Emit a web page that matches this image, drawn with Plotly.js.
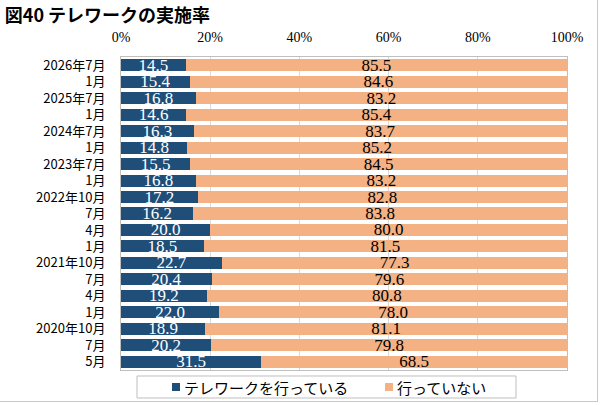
<!DOCTYPE html>
<html>
<head>
<meta charset="utf-8">
<script src="https://cdn.plot.ly/plotly-3.0.1.min.js"></script>
<style>
html,body{margin:0;padding:0;background:#fff;}
#wrap{width:597px;height:401px;border-right:1px solid #c8c8c8;border-bottom:1px solid #c8c8c8;}
#chart{width:597px;height:401px;}
</style>
</head>
<body>
<div id="wrap"><div id="chart"></div></div>
<script>
const periods = ["2026年7月","1月","2025年7月","1月","2024年7月","1月","2023年7月","1月","2022年10月","7月","4月","1月","2021年10月","7月","4月","1月","2020年10月","7月","5月"];
const doing = [14.5,15.4,16.8,14.6,16.3,14.8,15.5,16.8,17.2,16.2,20.0,18.5,22.7,20.4,19.2,22.0,18.9,20.2,31.5];
const notDoing = [85.5,84.6,83.2,85.4,83.7,85.2,84.5,83.2,82.8,83.8,80.0,81.5,77.3,79.6,80.8,78.0,81.1,79.8,68.5];
const seriesNames = ["テレワークを行っている","行っていない"];
const seriesColors = ["#1F4E79","#F4B183"];
const xTicks = [0,20,40,60,80,100];

const pos = periods.map((_, i) => i);
const serif = "Liberation Serif, Times New Roman, serif";
const sans = "Noto Sans CJK JP, sans-serif";

const W = 597, H = 401;
const M = {l: 121, r: 30, t: 57, b: 31};
const PW = W - M.l - M.r, PH = H - M.t - M.b;
const px = x => (x - M.l) / PW;
const py = y => (H - M.b - y) / PH;

const traces = [
  {
    type: "bar", orientation: "h", name: seriesNames[0],
    y: pos, x: doing,
    marker: {color: seriesColors[0]},
    text: doing.map(v => v.toFixed(1)),
    textposition: "inside", insidetextanchor: "middle", constraintext: "none",
    textfont: {family: serif, size: 17, color: "#ffffff"},
    hoverinfo: "skip"
  },
  {
    type: "bar", orientation: "h", name: seriesNames[1],
    y: pos, x: notDoing,
    marker: {color: seriesColors[1]},
    text: notDoing.map(v => v.toFixed(1)),
    textposition: "inside", insidetextanchor: "middle", constraintext: "none",
    textfont: {family: serif, size: 17, color: "#000000"},
    hoverinfo: "skip"
  }
];

// legend drawn manually (box, swatches, labels)
const legendItemsX = [172, 385];
const shapes = [
  {type: "rect", xref: "paper", yref: "paper", x0: px(137), x1: px(516), y0: py(376), y1: py(398),
   line: {color: "#bfbfbf", width: 1}, fillcolor: "#ffffff"}
];
const annotations = [];
legendItemsX.forEach((lx, i) => {
  shapes.push({type: "rect", xref: "paper", yref: "paper", x0: px(lx), x1: px(lx + 8), y0: py(383), y1: py(391),
               line: {width: 0}, fillcolor: seriesColors[i]});
  annotations.push({xref: "paper", yref: "paper", x: px(lx + 10), y: py(387.5), xanchor: "left", yanchor: "middle",
                    text: seriesNames[i], showarrow: false, font: {family: sans, size: 15, color: "#000"}});
});

const layout = {
  width: W, height: H,
  margin: {l: M.l, r: M.r, t: M.t, b: M.b, autoexpand: false},
  paper_bgcolor: "#ffffff", plot_bgcolor: "#ffffff",
  barmode: "stack", bargap: 0.27,
  showlegend: false,
  title: {text: "<b>図40 テレワークの実施率</b>", x: 0.008, xanchor: "left", y: 0.962, yanchor: "middle",
          font: {family: sans, size: 18, color: "#000"}},
  xaxis: {
    side: "top", range: [0, 100], tickvals: xTicks, ticktext: xTicks.map(v => v + "%"),
    showgrid: true, gridcolor: "#d9d9d9", zeroline: false,
    showline: true, mirror: true, linecolor: "#bfbfbf", linewidth: 1,
    ticks: "", ticklabelstandoff: 8,
    tickfont: {family: serif, size: 14, color: "#000"}, fixedrange: true
  },
  yaxis: {
    range: [periods.length - 0.5, -0.5],
    tickvals: pos, ticktext: periods,
    showgrid: false, zeroline: false,
    showline: true, mirror: true, linecolor: "#bfbfbf", linewidth: 1,
    ticks: "", ticklabelstandoff: 12,
    tickfont: {family: sans, size: 13, color: "#000"}, fixedrange: true
  },
  shapes: shapes,
  annotations: annotations
};

Plotly.newPlot("chart", traces, layout, {displayModeBar: false, staticPlot: true});
</script>
</body>
</html>
